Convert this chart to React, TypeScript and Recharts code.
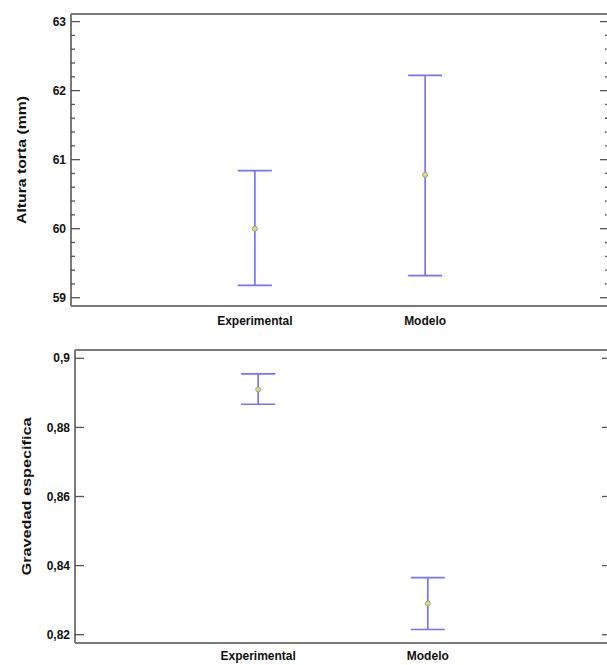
import { ComposedChart, Scatter, ErrorBar, XAxis, YAxis } from "recharts";

const categories = ["Experimental", "Modelo"];

const alturaMedia = [60.0, 60.78];
const alturaInferior = [59.18, 59.32];
const alturaSuperior = [60.84, 62.22];
const alturaTicks = [59, 60, 61, 62, 63];

const gravedadMedia = [0.891, 0.829];
const gravedadInferior = [0.8867, 0.8215];
const gravedadSuperior = [0.8955, 0.8365];
const gravedadTicks = [0.82, 0.84, 0.86, 0.88, 0.9];

const FONT = "'Liberation Sans', Arial, sans-serif";
const FRAME = "#7a7a7a";
const BAR = "#7474ff";

// every 0.2 between the labelled ticks of the upper chart
const alturaMinor: number[] = [];
alturaTicks.forEach((t, i) => {
  alturaMinor.push(t);
  if (i < alturaTicks.length - 1) {
    for (let k = 1; k < 5; k++) alturaMinor.push(Math.round((t + k * 0.2) * 10) / 10);
  }
});

function buildRows(media: number[], inf: number[], sup: number[]) {
  return categories.map((name, i) => ({
    x: i + 1,
    name,
    y: media[i],
    err: [media[i] - inf[i], sup[i] - media[i]],
  }));
}

const fmtComma = (v: number) => String(v).replace(".", ",");

function makeTick(side: "left" | "right", majors: number[], showLabel: boolean, fmt: (v: number) => string) {
  return (p: any) => {
    const v = p.payload.value;
    const isMajor = majors.some((m) => Math.abs(m - v) < 1e-9);
    const len = isMajor ? 9 : 4;
    const dir = side === "left" ? 1 : -1;
    return (
      <g key={`${side}-${v}`}>
        <line x1={p.x} y1={p.y} x2={p.x + dir * len} y2={p.y} stroke="#555" strokeWidth={1.3} />
        {showLabel && isMajor && (
          <text x={p.x - 5} y={p.y} dy="0.35em" textAnchor="end" fontFamily={FONT} fontSize={12} fontWeight="bold" fill="#111">
            {fmt(v)}
          </text>
        )}
      </g>
    );
  };
}

function yLabel(text: string, cx: number, length: number) {
  return (p: any) => {
    const vb = p.viewBox;
    const cy = vb.y + vb.height / 2;
    return (
      <text
        x={cx}
        y={cy}
        transform={`rotate(-90, ${cx}, ${cy})`}
        textAnchor="middle"
        dy="0.35em"
        fontFamily={FONT}
        fontSize={12}
        fontWeight="bold"
        fill="#111"
        textLength={length}
        lengthAdjust="spacingAndGlyphs"
      >
        {text}
      </text>
    );
  };
}

const Punto = (p: any) => (
  <circle cx={p.cx} cy={p.cy} r={2.5} fill="#d8d8a0" stroke="#a4a44e" strokeWidth={1} />
);

type PanelProps = {
  rows: any[];
  domain: [number, number];
  ticks: number[];
  majors: number[];
  fmt: (v: number) => string;
  label: string;
  labelX: number;
  labelLen: number;
  height: number;
  yWidth: number;
  xHeight: number;
  marginRight: number;
  tickGap: number;
};

function Panel(props: PanelProps) {
  const { rows, domain, ticks, majors, fmt, label, labelX, labelLen, height, yWidth, xHeight, marginRight, tickGap } = props;
  return (
    <ComposedChart width={620} height={height} data={rows} margin={{ top: 13, right: marginRight, bottom: 0, left: 0 }}>
      <XAxis
        dataKey="x"
        type="number"
        domain={[-0.08, 3.08]}
        ticks={[1, 2]}
        allowDataOverflow
        tickFormatter={(v: number) => categories[v - 1]}
        axisLine={{ stroke: FRAME, strokeWidth: 2 }}
        tickLine={false}
        tickSize={0}
        tickMargin={tickGap}
        height={xHeight}
        tick={{ fill: "#111", fontSize: 12, fontWeight: "bold", fontFamily: FONT }}
      />
      <XAxis
        xAxisId="top"
        orientation="top"
        dataKey="x"
        type="number"
        domain={[-0.08, 3.08]}
        allowDataOverflow
        height={1}
        tick={false}
        tickLine={false}
        axisLine={{ stroke: FRAME, strokeWidth: 2 }}
      />
      <YAxis
        type="number"
        domain={domain}
        ticks={ticks}
        interval={0}
        allowDataOverflow
        width={yWidth}
        axisLine={{ stroke: FRAME, strokeWidth: 2 }}
        tickLine={false}
        tickSize={0}
        tickMargin={0}
        tick={makeTick("left", majors, true, fmt)}
        label={yLabel(label, labelX, labelLen)}
      />
      <YAxis
        yAxisId="right"
        orientation="right"
        type="number"
        domain={domain}
        ticks={ticks}
        interval={0}
        allowDataOverflow
        width={1}
        axisLine={{ stroke: FRAME, strokeWidth: 2 }}
        tickLine={false}
        tickSize={0}
        tickMargin={0}
        tick={makeTick("right", majors, false, fmt)}
      />
      <Scatter dataKey="y" shape={Punto} isAnimationActive={false}>
        <ErrorBar dataKey="err" direction="y" width={17} stroke={BAR} strokeWidth={1.7} isAnimationActive={false} />
      </Scatter>
    </ComposedChart>
  );
}

export default function App() {
  const alturaRows = buildRows(alturaMedia, alturaInferior, alturaSuperior);
  const gravedadRows = buildRows(gravedadMedia, gravedadInferior, gravedadSuperior);
  return (
    <div style={{ position: "absolute", left: 0, top: 0, width: 607, height: 665, overflow: "hidden", background: "#fff" }}>
      <div style={{ position: "absolute", left: 0, top: 0 }}>
        <Panel
          rows={alturaRows}
          domain={[58.88, 63.11]}
          ticks={alturaMinor}
          majors={alturaTicks}
          fmt={(v) => String(v)}
          label="Altura torta (mm)"
          labelX={22}
          labelLen={128}
          height={330}
          yWidth={71}
          xHeight={24}
          marginRight={10}
          tickGap={10}
        />
      </div>
      <div style={{ position: "absolute", left: 0, top: 336 }}>
        <Panel
          rows={gravedadRows}
          domain={[0.8176, 0.9024]}
          ticks={gravedadTicks}
          majors={gravedadTicks}
          fmt={fmtComma}
          label="Gravedad especifica"
          labelX={27}
          labelLen={158}
          height={329}
          yWidth={75}
          xHeight={22}
          marginRight={8}
          tickGap={8}
        />
      </div>
    </div>
  );
}
